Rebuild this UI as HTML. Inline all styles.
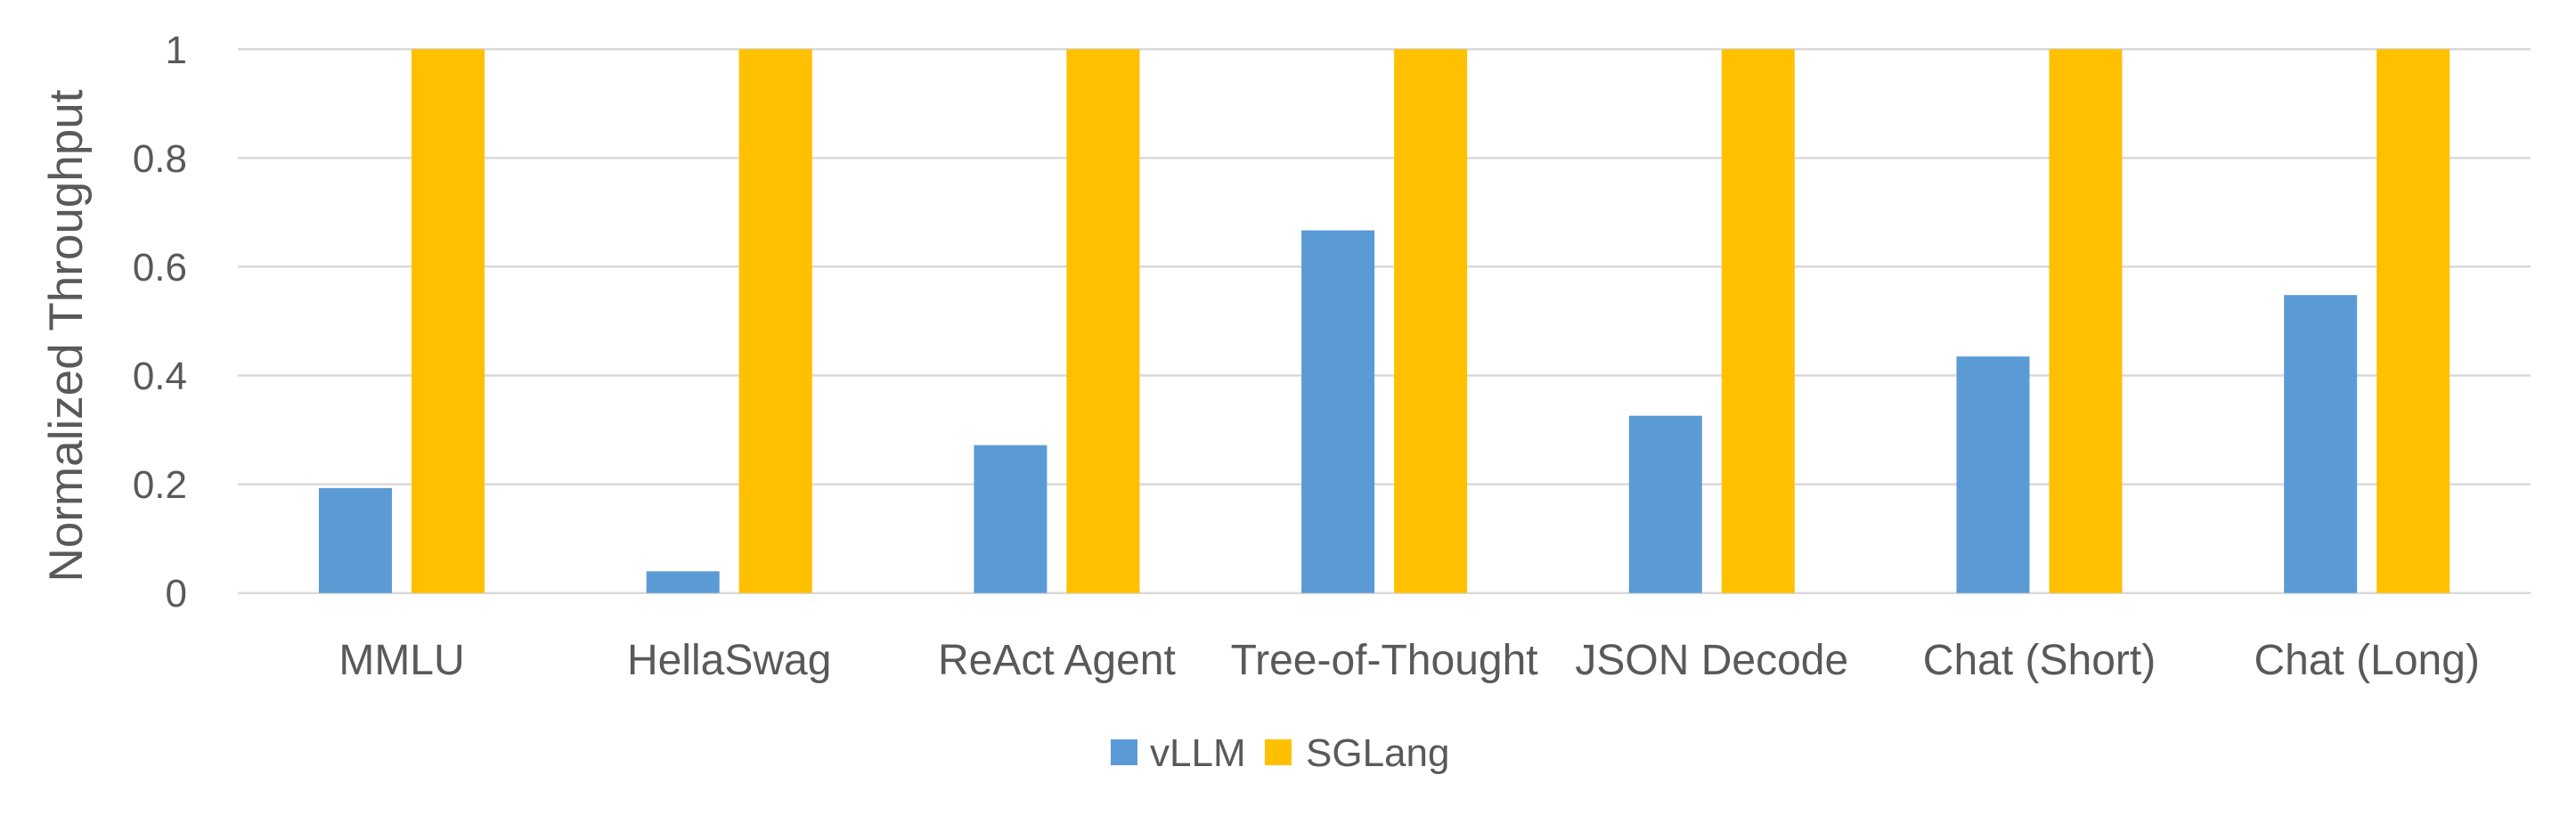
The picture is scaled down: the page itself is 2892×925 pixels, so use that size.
<!DOCTYPE html>
<html><head><style>html,body{margin:0;padding:0;background:#fff}svg{display:block}</style></head><body>
<svg width="2892" height="925" viewBox="0 0 2892 925" xmlns="http://www.w3.org/2000/svg" font-family="Liberation Sans, sans-serif" fill="#595959">
<g stroke="#D9D9D9" stroke-width="2.5">
<line x1="267" x2="2841" y1="55.3" y2="55.3"/>
<line x1="267" x2="2841" y1="177.4" y2="177.4"/>
<line x1="267" x2="2841" y1="299.4" y2="299.4"/>
<line x1="267" x2="2841" y1="421.5" y2="421.5"/>
<line x1="267" x2="2841" y1="543.6" y2="543.6"/>
<line x1="267" x2="2841" y1="665.7" y2="665.7"/>
</g>
<g font-size="44" text-anchor="end">
<text x="210" y="71">1</text>
<text x="210" y="193">0.8</text>
<text x="210" y="315">0.6</text>
<text x="210" y="437">0.4</text>
<text x="210" y="559">0.2</text>
<text x="210" y="681">0</text>
</g>
<text transform="translate(92,377) rotate(-90)" font-size="53" text-anchor="middle">Normalized Throughput</text>
<g>
<rect x="358" y="547.9" width="82" height="117.8" fill="#5B9BD5"/>
<rect x="462" y="55.3" width="82" height="610.4" fill="#FFC000"/>
<rect x="725.7" y="641.3" width="82" height="24.4" fill="#5B9BD5"/>
<rect x="829.7" y="55.3" width="82" height="610.4" fill="#FFC000"/>
<rect x="1093.4" y="499.7" width="82" height="166" fill="#5B9BD5"/>
<rect x="1197.4" y="55.3" width="82" height="610.4" fill="#FFC000"/>
<rect x="1461.1" y="258.6" width="82" height="407.1" fill="#5B9BD5"/>
<rect x="1565.1" y="55.3" width="82" height="610.4" fill="#FFC000"/>
<rect x="1828.8" y="466.7" width="82" height="199" fill="#5B9BD5"/>
<rect x="1932.8" y="55.3" width="82" height="610.4" fill="#FFC000"/>
<rect x="2196.5" y="400.2" width="82" height="265.5" fill="#5B9BD5"/>
<rect x="2300.5" y="55.3" width="82" height="610.4" fill="#FFC000"/>
<rect x="2564.2" y="331.2" width="82" height="334.5" fill="#5B9BD5"/>
<rect x="2668.2" y="55.3" width="82" height="610.4" fill="#FFC000"/>
</g>
<g font-size="48" text-anchor="middle">
<text x="451" y="757">MMLU</text>
<text x="818.7" y="757">HellaSwag</text>
<text x="1186.4" y="757">ReAct Agent</text>
<text x="1554.1" y="757">Tree-of-Thought</text>
<text x="1921.8" y="757">JSON Decode</text>
<text x="2289.5" y="757">Chat (Short)</text>
<text x="2657.2" y="757">Chat (Long)</text>
</g>
<rect x="1247" y="830" width="30" height="29" fill="#5B9BD5"/>
<text x="1291" y="860" font-size="44">vLLM</text>
<rect x="1420" y="830" width="30" height="29" fill="#FFC000"/>
<text x="1466" y="860" font-size="44">SGLang</text>
</svg>
</body></html>
